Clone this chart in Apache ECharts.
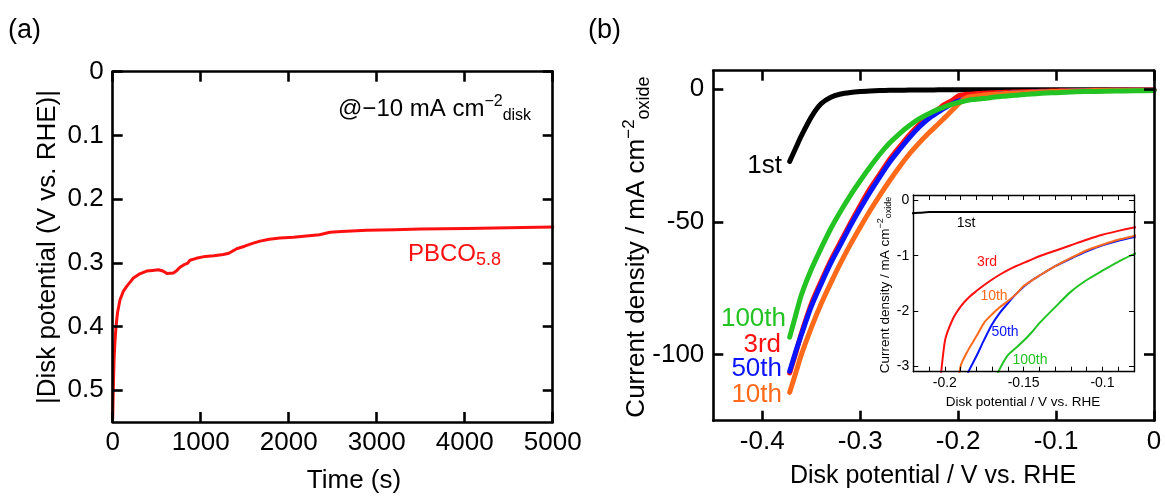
<!DOCTYPE html>
<html>
<head>
<meta charset="utf-8">
<script src="https://cdn.jsdelivr.net/npm/echarts@6/dist/echarts.min.js"></script>
<style>html,body{margin:0;padding:0;background:#fff}#c{width:1165px;height:500px}</style>
</head>
<body>
<div id="c"></div>
<script>
// ---------- Panel (a): chronopotentiometry ----------
const timeA = [0, 5, 10, 15, 25, 38, 55, 83, 120, 159, 200, 235, 300, 386, 450, 519, 570, 620, 689, 730, 765, 810, 850, 878, 950, 1050, 1150, 1257, 1320, 1409, 1500, 1580, 1674, 1780, 1900, 2053, 2200, 2350, 2469, 2600, 2886, 3200, 3500, 4022, 4500, 5000];
const potentialA = [0.545, 0.51, 0.48, 0.455, 0.425, 0.40, 0.378, 0.358, 0.345, 0.337, 0.33, 0.324, 0.318, 0.313, 0.312, 0.311, 0.313, 0.317, 0.316, 0.312, 0.307, 0.303, 0.301, 0.296, 0.293, 0.29, 0.289, 0.287, 0.285, 0.278, 0.274, 0.27, 0.266, 0.263, 0.261, 0.26, 0.258, 0.256, 0.252, 0.251, 0.249, 0.248, 0.247, 0.246, 0.245, 0.244];
const ticksAX = [0, 1000, 2000, 3000, 4000, 5000];
const ticksAY = [0, 0.1, 0.2, 0.3, 0.4, 0.5];

// ---------- Panel (b): LSV curves ----------
const potentialB = [-0.372, -0.365, -0.36, -0.35, -0.34, -0.33, -0.32, -0.31, -0.30, -0.29, -0.28, -0.27, -0.26, -0.25, -0.24, -0.23, -0.22, -0.215, -0.21, -0.205, -0.2, -0.195, -0.19, -0.185, -0.18, -0.175, -0.17, -0.165, -0.16, -0.155, -0.15, -0.145, -0.14, -0.13, -0.12, -0.11, -0.10, -0.09, -0.08, -0.06, -0.04, -0.02, 0];
const cur1st = [-27.2, -21.5, -17.5, -10.5, -5.5, -3.0, -1.8, -1.2, -0.85, -0.65, -0.5, -0.42, -0.36, -0.32, -0.28, -0.26, -0.23, -0.22, -0.21, -0.21, -0.21, -0.21, -0.21, -0.21, -0.21, -0.21, -0.21, -0.21, -0.21, -0.21, -0.21, -0.21, -0.21, -0.21, -0.21, -0.21, -0.21, -0.21, -0.21, -0.21, -0.21, -0.21, -0.21];
const cur3rd = [-107, -98.5, -92, -81, -72.5, -64.5, -57.5, -50.5, -43.8, -37.5, -32, -26.5, -21.8, -17.3, -13.4, -10, -7.4, -6.0, -5.0, -3.9, -2.55, -2.15, -1.92, -1.76, -1.64, -1.53, -1.43, -1.34, -1.26, -1.19, -1.13, -1.07, -1.01, -0.91, -0.81, -0.71, -0.62, -0.55, -0.49, -0.38, -0.3, -0.22, -0.18];
const cur10th = [-114.3, -106, -100, -90, -81, -73, -65.5, -58.5, -52, -45.8, -40, -34.5, -29.3, -24.5, -20.3, -16.5, -13, -11.2, -9.4, -7.5, -5.6, -4.0, -3.0, -2.7, -2.46, -2.21, -2.06, -1.93, -1.82, -1.7, -1.55, -1.45, -1.36, -1.19, -1.04, -0.9, -0.8, -0.71, -0.64, -0.5, -0.4, -0.3, -0.25];
const cur50th = [-106.3, -98, -92.5, -82, -73.5, -65.5, -58.5, -51.5, -45, -38.8, -33, -27.5, -22.8, -18.3, -14.3, -11, -8.5, -7.3, -6.2, -5.3, -4.5, -3.9, -3.45, -3.1, -2.82, -2.52, -2.24, -2.03, -1.86, -1.7, -1.56, -1.45, -1.36, -1.19, -1.05, -0.92, -0.81, -0.73, -0.66, -0.52, -0.4, -0.3, -0.25];
const cur100th = [-93.5, -84, -77.5, -68, -60, -52.5, -46, -40, -34.5, -29.3, -24.5, -20.3, -16.8, -13.8, -11.2, -9.2, -7.5, -6.8, -6.1, -5.5, -5.0, -4.6, -4.2, -3.9, -3.7, -3.5, -3.35, -3.04, -2.8, -2.67, -2.54, -2.39, -2.22, -1.93, -1.65, -1.44, -1.27, -1.11, -0.97, -0.8, -0.67, -0.57, -0.5];
const ticksBX = [-0.4, -0.3, -0.2, -0.1, 0];
const ticksBY = [0, -50, -100];
const labelsInsetX = [-0.2, -0.15, -0.1];
const ticksInsetY = [0, -1, -2, -3];
const minorInsetX = [-0.22, -0.21, -0.2, -0.19, -0.18, -0.17, -0.16, -0.15, -0.14, -0.13, -0.12, -0.11, -0.1, -0.09, -0.08];

const FONT = "'Liberation Sans', Arial, Helvetica, sans-serif";
const C_RED = '#ff1010', C_ORANGE = '#ff6a1a', C_BLUE = '#0a14ff', C_GREEN = '#22c322', C_BLACK = '#000';

function plain(v) { return String(Math.round(v * 1000) / 1000); }

function axisBase(gridIndex, pos, min, max, tickVals, labelVals, opts) {
  opts = opts || {};
  const big = !opts.small;
  return {
    type: 'value', gridIndex, position: pos, min, max,
    inverse: !!opts.inverse,
    z: 10,
    axisLine: { show: true, onZero: false, lineStyle: { color: '#000', width: big ? 2.6 : 1.4 } },
    axisTick: { show: true, inside: true, length: big ? 10 : 5, customValues: tickVals, lineStyle: { color: '#000', width: big ? 2.6 : 1 } },
    axisLabel: labelVals ? { show: true, customValues: labelVals, formatter: plain, color: '#000', fontFamily: FONT, fontSize: big ? 26 : 14, margin: opts.margin != null ? opts.margin : (big ? 8 : 4) } : { show: false },
    splitLine: { show: false },
    minorTick: { show: false }
  };
}

function pairs(xs, ys) { return xs.map((x, i) => [x, ys[i]]); }

function lineSeries(name, xi, yi, data, color, width, smooth) {
  return { name, type: 'line', xAxisIndex: xi, yAxisIndex: yi, data, showSymbol: false, symbol: 'none', clip: true,
    smooth: smooth || false,
    lineStyle: { color, width, cap: 'round', join: 'round' }, itemStyle: { color }, animation: false };
}

function rich(F) {
  return {
    m: { fontSize: F, lineHeight: Math.round(F * 1.23), fontFamily: FONT },
    sup: { fontSize: Math.round(F * 0.66), lineHeight: Math.round(F * 0.5), verticalAlign: 'top', fontFamily: FONT },
    sub: { fontSize: Math.round(F * 0.68), lineHeight: Math.round(F * 0.65), verticalAlign: 'bottom', fontFamily: FONT }
  };
}

function txt(x, y, text, size, color, align, extra) {
  return Object.assign({ type: 'text', x, y, z: 100,
    style: { text, fill: color || '#000', fontSize: size, fontFamily: FONT, align: align || 'center', verticalAlign: 'middle' } }, extra || {});
}

const chart = echarts.init(document.getElementById('c'), null, { renderer: 'canvas' });
chart.setOption({
  animation: false,
  backgroundColor: '#fff',
  grid: [
    { left: 112.7, top: 71.7, width: 440, height: 350.3 },
    { left: 713.3, top: 70.7, width: 440.7, height: 350 },
    { left: 913.3, top: 195, width: 220.7, height: 176.7 }
  ],
  xAxis: [
    axisBase(0, 'bottom', 0, 5000, ticksAX, ticksAX),
    axisBase(0, 'top', 0, 5000, ticksAX, null),
    axisBase(1, 'bottom', -0.45, 0, ticksBX, ticksBX),
    axisBase(1, 'top', -0.45, 0, ticksBX, null),
    axisBase(2, 'bottom', -0.22, -0.08, minorInsetX, labelsInsetX, { small: true }),
    axisBase(2, 'top', -0.22, -0.08, minorInsetX, null, { small: true })
  ],
  yAxis: [
    axisBase(0, 'left', 0, 0.55, ticksAY, ticksAY, { inverse: true, margin: 9 }),
    axisBase(0, 'right', 0, 0.55, ticksAY, null, { inverse: true }),
    axisBase(1, 'left', -125, 7, ticksBY, ticksBY, { margin: 9 }),
    axisBase(1, 'right', -125, 7, ticksBY, null),
    axisBase(2, 'left', -3.1, 0.1, ticksInsetY, ticksInsetY, { small: true }),
    axisBase(2, 'right', -3.1, 0.1, ticksInsetY, null, { small: true })
  ],
  series: [
    lineSeries('PBCO5.8', 0, 0, pairs(timeA, potentialA), C_RED, 3),
    lineSeries('1st', 2, 2, pairs(potentialB, cur1st), C_BLACK, 5, 0.25),
    lineSeries('3rd', 2, 2, pairs(potentialB, cur3rd), C_RED, 5, 0.25),
    lineSeries('50th', 2, 2, pairs(potentialB, cur50th), C_BLUE, 5, 0.25),
    lineSeries('10th', 2, 2, pairs(potentialB, cur10th), C_ORANGE, 5, 0.25),
    lineSeries('100th', 2, 2, pairs(potentialB, cur100th), C_GREEN, 5, 0.25),
    lineSeries('1st inset', 4, 4, pairs(potentialB, cur1st), C_BLACK, 2, 0.25),
    lineSeries('3rd inset', 4, 4, pairs(potentialB, cur3rd), C_RED, 2, 0.25),
    lineSeries('50th inset', 4, 4, pairs(potentialB, cur50th), C_BLUE, 2, 0.25),
    lineSeries('10th inset', 4, 4, pairs(potentialB, cur10th), C_ORANGE, 2, 0.25),
    lineSeries('100th inset', 4, 4, pairs(potentialB, cur100th), C_GREEN, 2, 0.25)
  ],
  graphic: [
    txt(8, 31, '(a)', 27, '#000', 'left'),
    txt(588, 31, '(b)', 27, '#000', 'left'),
    txt(48, 247, '|Disk potential (V vs. RHE)|', 26, '#000', 'center', { rotation: Math.PI / 2 }),
    txt(354, 481, 'Time (s)', 26),
    txt(933, 476, 'Disk potential / V vs. RHE', 25),
    { type: 'text', x: 637, y: 247, z: 100, rotation: Math.PI / 2,
      style: { text: '{m|Current density / mA cm}{sup|−2}{sub|oxide}', rich: rich(26), fill: '#000', align: 'center', verticalAlign: 'middle', fontFamily: FONT } },
    { type: 'text', x: 338, y: 109, z: 100,
      style: { text: '{m|@−10 mA cm}{sup|−2}{sub|disk}', rich: rich(24), fill: '#000', align: 'left', verticalAlign: 'middle', fontFamily: FONT } },
    { type: 'text', x: 408, y: 254, z: 100,
      style: { text: '{m|PBCO}{sub|5.8}', rich: { m: { fontSize: 24, lineHeight: 30, fontFamily: FONT }, sub: { fontSize: 18, lineHeight: 18, verticalAlign: 'bottom', fontFamily: FONT } }, fill: C_RED, align: 'left', verticalAlign: 'middle', fontFamily: FONT } },
    txt(782, 166, '1st', 26, C_BLACK, 'right'),
    txt(786, 319, '100th', 26, C_GREEN, 'right'),
    txt(781, 345, '3rd', 26, C_RED, 'right'),
    txt(782, 369, '50th', 26, C_BLUE, 'right'),
    txt(782, 395, '10th', 26, C_ORANGE, 'right'),
    txt(966, 223, '1st', 14, C_BLACK),
    txt(987, 262, '3rd', 14, C_RED),
    txt(994, 296, '10th', 14, C_ORANGE),
    txt(1005, 332, '50th', 14, C_BLUE),
    txt(1030, 360, '100th', 14, C_GREEN),
    txt(1023, 402, 'Disk potential / V vs. RHE', 13.5),
    { type: 'text', x: 885, y: 285, z: 100, rotation: Math.PI / 2,
      style: { text: '{m|Current density / mA cm}{sup|−2}{sub|oxide}', rich: rich(13.5), fill: '#000', align: 'center', verticalAlign: 'middle', fontFamily: FONT } }
  ]
});
</script>
</body>
</html>
